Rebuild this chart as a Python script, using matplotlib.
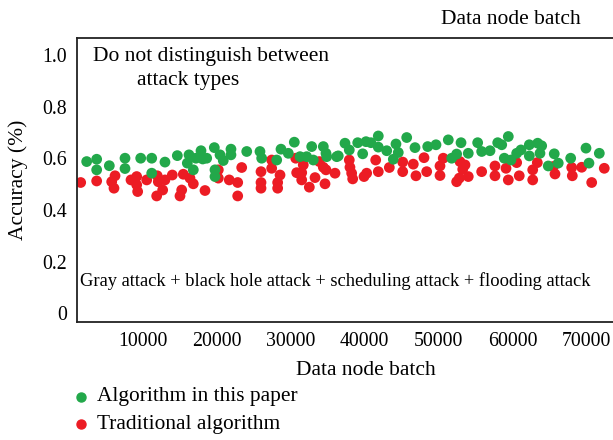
import matplotlib
matplotlib.use("Agg")
import matplotlib.pyplot as plt
from matplotlib.lines import Line2D

# ---- data ----
green_x = [2430, 3780, 3780, 5490, 7610, 7610, 9730, 11220, 11220, 13010,
           14680, 16030, 16260, 16840, 17200, 17880, 18110, 18650, 19680, 19770,
           19770, 20450, 20890, 21930, 21930, 24060, 25850, 26080, 28110, 28690,
           29680, 30490, 31260, 32160, 32840, 33060, 34410, 34770, 34870, 36220,
           36430, 37340, 37920, 39060, 39730, 40180, 40850, 41840, 41840, 42980,
           43870, 44230, 44540, 45680, 46800, 48520, 49640, 51300, 51760, 52430,
           53020, 54000, 55270, 55810, 56940, 57980, 58520, 58870, 59410, 59770,
           60540, 61120, 62250, 62250, 63380, 63920, 63690, 64810, 65620, 66160,
           67840, 69910, 70310, 71710]
green_y = [0.587, 0.596, 0.555, 0.571, 0.600, 0.560, 0.600, 0.600, 0.542, 0.585,
           0.610, 0.581, 0.613, 0.555, 0.600, 0.629, 0.597, 0.600, 0.641, 0.555,
           0.529, 0.613, 0.591, 0.635, 0.613, 0.626, 0.626, 0.600, 0.593, 0.635,
           0.619, 0.662, 0.606, 0.606, 0.645, 0.593, 0.645, 0.619, 0.606, 0.606,
           0.609, 0.658, 0.632, 0.660, 0.617, 0.664, 0.660, 0.686, 0.643, 0.629,
           0.596, 0.655, 0.622, 0.680, 0.641, 0.645, 0.652, 0.671, 0.600, 0.616,
           0.660, 0.619, 0.660, 0.626, 0.629, 0.660, 0.652, 0.600, 0.684, 0.593,
           0.619, 0.632, 0.652, 0.609, 0.658, 0.648, 0.619, 0.570, 0.617, 0.581,
           0.600, 0.639, 0.581, 0.619]

red_x = [1620, 3780, 5810, 6260, 6120, 8420, 9190, 9190, 9320, 10540,
         11970, 12110, 13010, 12700, 11890, 14000, 15490, 16390, 16840, 15270,
         15040, 18420, 20220, 20220, 21700, 22840, 22840, 23380, 25990, 25990,
         25990, 27430, 27430, 28240, 28240, 28560, 30680, 30810, 31700, 31490,
         31490, 33290, 32520, 33870, 34410, 34770, 34640, 35990, 37920, 38010,
         38240, 38380, 39910, 40270, 41490, 41840, 43330, 45140, 45140, 46570,
         46930, 48020, 48380, 50180, 50180, 50620, 52880, 53250, 52790, 52430,
         53560, 54000, 55810, 57610, 57610, 59100, 59410, 60540, 60890, 62710,
         62710, 63330, 65490, 65720, 67980, 68060, 69330, 70680, 72380]
red_y = [0.506, 0.512, 0.509, 0.532, 0.484, 0.516, 0.529, 0.497, 0.471, 0.516,
         0.532, 0.509, 0.516, 0.477, 0.454, 0.535, 0.538, 0.523, 0.501, 0.477,
         0.454, 0.475, 0.555, 0.523, 0.516, 0.506, 0.454, 0.564, 0.548, 0.506,
         0.484, 0.593, 0.561, 0.506, 0.484, 0.535, 0.600, 0.544, 0.574, 0.544,
         0.516, 0.525, 0.488, 0.587, 0.565, 0.555, 0.501, 0.542, 0.593, 0.565,
         0.542, 0.520, 0.529, 0.542, 0.593, 0.548, 0.564, 0.585, 0.548, 0.577,
         0.532, 0.602, 0.548, 0.570, 0.533, 0.600, 0.587, 0.557, 0.523, 0.509,
         0.574, 0.529, 0.548, 0.570, 0.532, 0.561, 0.516, 0.583, 0.532, 0.555,
         0.516, 0.583, 0.568, 0.539, 0.564, 0.532, 0.565, 0.506, 0.561]

x_ticks = [10000, 20000, 30000, 40000, 50000, 60000, 70000]
y_ticks = [0, 0.2, 0.4, 0.6, 0.8, 1.0]
y_tick_labels = ["0", "0.2", "0.4", "0.6", "0.8", "1.0"]
series_names = ["Algorithm in this paper", "Traditional algorithm"]

GREEN = "#22a84a"
RED = "#ec1c24"

plt.rcParams['font.family'] = ['Liberation Serif', 'DejaVu Serif']

fig = plt.figure(figsize=(6.13, 4.40), dpi=100)
ax = fig.add_axes([0.1251, 0.268, 0.8749, 0.645])

ax.scatter(red_x, red_y, s=60, color=RED, edgecolors='none', zorder=2)
ax.scatter(green_x, green_y, s=60, color=GREEN, edgecolors='none', zorder=3)

ax.set_xlim(1080, 73560)
ax.set_ylim(-0.034, 1.064)
ax.set_xticks(x_ticks)
ax.set_xticklabels([str(t) for t in x_ticks])
ax.set_yticks(y_ticks)
ax.set_yticklabels(y_tick_labels)
ax.tick_params(axis='both', length=0, labelsize=14.3)
ax.tick_params(axis='x', pad=7)
ax.tick_params(axis='y', pad=7)
ax.spines['right'].set_visible(False)
for s in ['left', 'top', 'bottom']:
    ax.spines[s].set_linewidth(1.3)
    ax.spines[s].set_color('#222222')

# texts
fig.text(93.3 / 613, 1 - 56.7 / 440, "Do not distinguish between", fontsize=15.5,
         ha='left', va='center')
fig.text(136.7 / 613, 1 - 80 / 440, "attack types", fontsize=15.5,
         ha='left', va='center')
fig.text(80 / 613, 1 - 281 / 440,
         "Gray attack + black hole attack + scheduling attack + flooding attack",
         fontsize=13.3, ha='left', va='center')
fig.text(366 / 613, 1 - 370 / 440, "Data node batch", fontsize=15.5,
         ha='center', va='center')
fig.text(511 / 613, 1 - 20 / 440, "Data node batch", fontsize=15.5,
         ha='center', va='center')
fig.text(18 / 613, 1 - 180 / 440, "Accuracy (%)", fontsize=15.5,
         ha='center', va='center', rotation=90)

# legend
leg_y = [397, 424]
leg_c = [GREEN, RED]
for name, py, c in zip(series_names, leg_y, leg_c):
    fig.text(97.3 / 613, 1 - py / 440, name, fontsize=15.4, ha='left', va='center')
    fig.add_artist(Line2D([80.7 / 613], [1 - py / 440], marker='o',
                          markersize=6.5, color=c, linestyle='none',
                          transform=fig.transFigure))

fig.savefig("out.png", dpi=100)
